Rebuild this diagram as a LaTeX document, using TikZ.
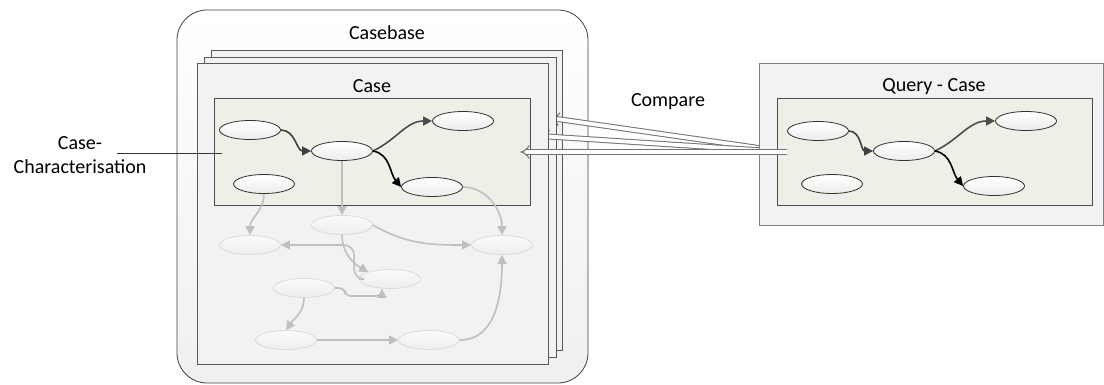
\documentclass[tikz,border=0pt]{standalone}
\usepackage{fontspec}
\setmainfont{Carlito}
\usetikzlibrary{arrows.meta,shapes.geometric,fit}
\definecolor{charGreen}{HTML}{EEF0E7}
\tikzset{
	attr/.style={ellipse, draw=black!80, top color=white, bottom color=black!7, minimum width=30.5pt, minimum height=9.5pt, inner sep=0pt},
	ghost/.style={ellipse, draw=black!14, top color=black!2, bottom color=black!7, minimum width=30.5pt, minimum height=9.5pt, inner sep=0pt},
	page/.style={draw=black!65, fill=black!5, inner sep=0pt},
	link/.style={-{Triangle[length=4.5pt,width=4.5pt]}, line width=0.8pt},
	faint/.style={link, draw=black!25},
	cmpArrow/.style={draw=black!55, double=white, double distance=1.9pt, line width=0.5pt, -{Implies}}
}
\begin{document}
\begin{tikzpicture}[x=0.5pt, y=-0.5pt, font=\fontsize{10}{12}\selectfont]
	\useasboundingbox (0,0) rectangle (1104,385);

	% casebase with the stack of cases
	\draw[black!75, rounded corners=15pt, top color=white, bottom color=black!6] (177,10) rectangle (588,383);
	\node (casebase) at (387,33) {Casebase};

	\coordinate (cmp) at (787,152);
	\node[page, fit={(211,50) (562,350)}] (back) {};
	\draw[cmpArrow] (cmp) -- ([xshift=-6]back.east |- 0,118);
	\node[page, fit={(204,57) (556,357)}] (middle) {};
	\draw[cmpArrow] (cmp) -- ([xshift=-8]middle.east |- 0,136);
	\node[page, fit={(197,63) (548,364)}] (front) {};
	\node (case) at (372,86) {Case};
	\node[draw=black!70, fill=charGreen, inner sep=0pt, fit={(214,98) (530,205)}] (charbox) {};

	% query case
	\node[draw=black!50, fill=black!5, inner sep=0pt, fit={(759,63) (1103,225)}] (query) {};
	\node (querylabel) at (934,87) {Query - Case};
	\node[draw=black!70, fill=charGreen, inner sep=0pt, fit={(777,98) (1092,205)}] (qchar) {};

	\draw[cmpArrow] (cmp) -- ([xshift=-14]front.east |- cmp);
	\node (compare) at (668,102) {Compare};

	% characterisation of the case
	\node[attr] (c1) at (250,130) {};
	\node[attr] (c2) at (342,151) {};
	\node[attr] (c3) at (463,121) {};
	\node[attr] (c4) at (264,184) {};
	\node[attr] (c5) at (432,187) {};

	% rest of the case
	\node[ghost] (g1) at (250,245) {};
	\node[ghost] (g2) at (342,225) {};
	\node[ghost] (g3) at (502,245) {};
	\node[ghost] (g4) at (390,279) {};
	\node[ghost] (g5) at (304,288) {};
	\node[ghost] (g6) at (286,340) {};
	\node[ghost] (g7) at (429,340) {};

	\draw[link, black!75] (c1.east) to[out=0,in=180] (c2.west);
	\draw[link, black!70] (c2.east) to[out=25,in=180] (c3.west);
	\draw[link, black] (c2.east) to[out=-10,in=130] (c5.west);

	\draw[faint] (c2.south) -- (g2.north);
	\draw[faint] (c4.south) to[out=-90,in=90] (g1.north);
	\draw[faint] (c5.east) to[out=0,in=90] (g3.north);
	\draw[faint] (g2.east) to[out=-30,in=180] (g3.west);
	\draw[faint] (g2.south) to[out=-90,in=150] (g4.north west);
	\draw[faint, rounded corners=5pt] (g4.west) -- ++(-5,0) |- (g1.east);
	\draw[faint, rounded corners=3pt] (g5.east) -- ++(10,0) -- ++(0,8) -| ([xshift=-4]g4.south);
	\draw[faint] (g5.south) to[out=-90,in=55] (g6.north);
	\draw[faint] (g6.east) -- (g7.west);
	\draw[faint] (g7.east) to[out=0,in=-90] (g3.south);

	% query characterisation
	\node[attr] (q1) at (818,131) {};
	\node[attr] (q2) at (904,151) {};
	\node[attr] (q3) at (1026,121) {};
	\node[attr] (q4) at (832,184) {};
	\node[attr] (q5) at (994,186) {};

	\draw[link, black!75] (q1.east) to[out=0,in=180] (q2.west);
	\draw[link, black!70] (q2.east) to[out=25,in=180] (q3.west);
	\draw[link, black] (q2.east) to[out=-10,in=130] (q5.west);

	% label on the left
	\node[align=center] (charlabel) at (80,155) {Case-\\Characterisation};
	\coordinate (charpoint) at (222,153);
	\draw[black!80, thin] (charlabel.center |- charpoint) ++(37,0) -- (charpoint);
\end{tikzpicture}
\end{document}
